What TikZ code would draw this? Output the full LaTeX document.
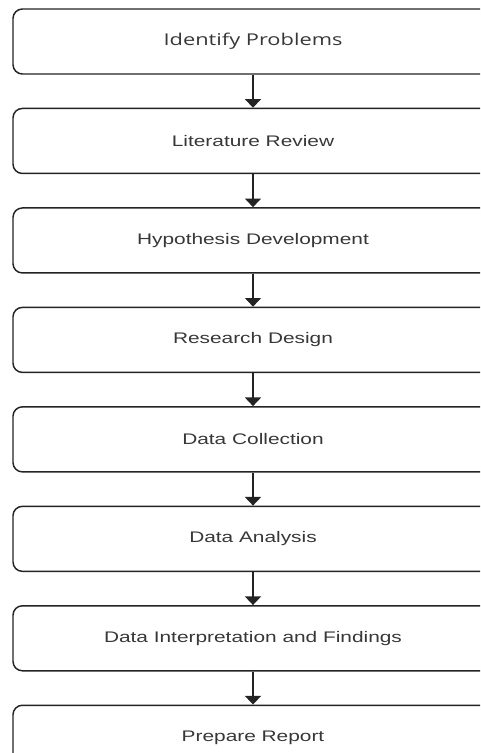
\documentclass[tikz,border=0pt]{standalone}
\usepackage{fontspec}
\usepackage{tikz}
\usetikzlibrary{arrows.meta,positioning}
\newfontfamily\titlefont[FakeStretch=1.34]{Open Sans}
\newfontfamily\stagefont[FakeStretch=1.36]{Liberation Sans}
\definecolor{boxline}{RGB}{35,35,35}
\definecolor{boxtext}{RGB}{55,55,55}

\begin{document}
\begin{tikzpicture}[
    stage/.style={draw=boxline, line width=1.1pt, rounded corners=7pt,
      minimum width=360pt, minimum height=48.75pt, inner sep=0pt,
      text=boxtext, font=\stagefont\fontsize{11.5pt}{14pt}\selectfont},
    flow/.style={-{Triangle[width=12pt,length=6.5pt]}, boxline, line width=1.2pt},
    node distance=24.75pt
  ]
  \useasboundingbox (0,0) rectangle (360pt,-564.75pt);
  \clip (0,0) rectangle (360pt,-564.75pt);
  % Steps
  \node[stage, font=\titlefont\fontsize{12.2pt}{14pt}\selectfont] (problems) at (189.75pt,-31.125pt) {Identify Problems};
  \node[stage, below=of problems] (review) {Literature Review};
  \node[stage, below=of review] (hypothesis) {Hypothesis Development};
  \node[stage, below=of hypothesis] (design) {Research Design};
  \node[stage, below=of design] (collection) {Data Collection};
  \node[stage, below=of collection] (analysis) {Data Analysis};
  \node[stage, below=of analysis] (findings) {Data Interpretation and Findings};
  \node[stage, below=of findings] (report) {Prepare Report};
  % Arrows
  \draw[flow] (problems) -- (review);
  \draw[flow] (review) -- (hypothesis);
  \draw[flow] (hypothesis) -- (design);
  \draw[flow] (design) -- (collection);
  \draw[flow] (collection) -- (analysis);
  \draw[flow] (analysis) -- (findings);
  \draw[flow] (findings) -- (report);
\end{tikzpicture}
\end{document}
